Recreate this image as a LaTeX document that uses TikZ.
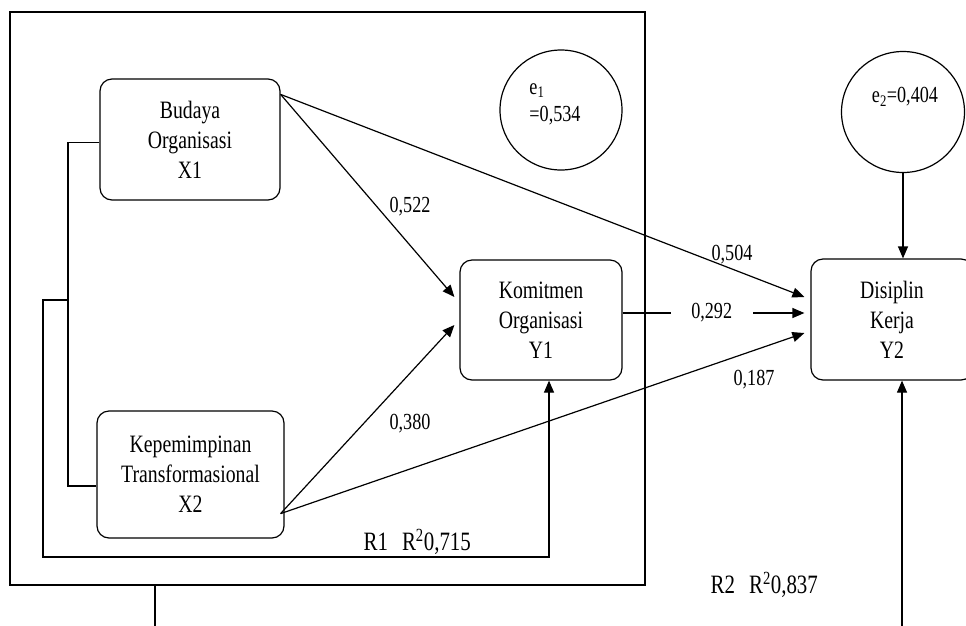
\documentclass[tikz,border=0pt]{standalone}
\usepackage{fontspec}
\setmainfont[FakeStretch=0.79]{Liberation Serif}
\usetikzlibrary{arrows.meta,shapes.geometric,calc}
\begin{document}
\begin{tikzpicture}[x=1pt,y=-1pt,line width=1.2pt,
  box/.style={draw,rounded corners=12pt,align=center,font=\fontsize{25}{30}\selectfont,inner sep=0pt},
  arr/.style={-{Triangle[length=12pt,width=10pt]}},
  num/.style={font=\fontsize{23}{25}\selectfont,inner sep=1pt},
  rr/.style={font=\fontsize{26.5}{28}\selectfont,anchor=west,inner sep=0pt},
  errc/.style={draw,ellipse,inner sep=0pt}]
\clip (0,0) rectangle (966,625);
\fill[white] (0,0) rectangle (966,625);
% outer frame
\draw (10,12) rectangle (645,585);
% nodes
\node[box,minimum width=180pt,minimum height=121pt] (X1) at (190,139.5) {Budaya\\Organisasi\\X1};
\node[box,minimum width=187pt,minimum height=127pt] (X2) at (190.5,474.5) {Kepemimpinan\\Transformasional\\X2};
\node[box,minimum width=162pt,minimum height=120pt] (Y1) at (541,320) {Komitmen\\Organisasi\\Y1};
\node[box,minimum width=162pt,minimum height=121pt] (Y2) at (892,319.5) {Disiplin\\Kerja\\Y2};
\node[errc,minimum width=122pt,minimum height=120pt] (e1) at (561,110) {};
\node[errc,minimum width=123pt,minimum height=121pt] (e2) at (903,112) {};
\node[align=left,font=\fontsize{23}{27}\selectfont,inner sep=0pt] (e1t) at (555,104) {e\textsubscript{1}\\=0,534};
\node[font=\fontsize{23}{23}\selectfont,inner sep=0pt] (e2t) at (905,97) {e\textsubscript{2}=0,404};
% coordinates
\coordinate (s1) at ($(X1.north east)+(0,16)$);
\coordinate (s2) at ($(X2.south east)+(-4,-25)$);
\coordinate (t11) at ($(Y1.west)+(-5,-23)$);
\coordinate (t12) at ($(Y1.west)+(-5,5)$);
\coordinate (t21) at ($(Y2.west)+(-6,-22.5)$);
\coordinate (t22) at ($(Y2.west)+(-6,-6.5)$);
\coordinate (t23) at ($(Y2.west)+(-6,13.5)$);
% paths
\draw[arr] (s1) -- (t11);
\draw[arr] (s1) -- (t21);
\draw[arr] (s2) -- (t12);
\draw[arr] (s2) -- (t23);
\draw[arr] ($(Y1.east)+(0,-7)$) -- node[num,fill=white,minimum width=82pt,pos=0.49] (l292) {0,292} (t22);
\draw[arr] (e2.south) -- (e2.south |- Y2.north);
% bracket
\draw ($(X1.west)+(0,3)$) -- (68,142.5) -- (68,486) -- ($(X2.west)+(0,11.5)$);
\draw[arr] (68,300) -- (43,300) -- (43,557) -- (549,557) -- ($(Y1.south)+(8,0)$);
\draw (155,585) -- (155,630);
\draw[arr] (902,630) -- ($(Y2.south)+(10,0)$);
% labels
\node[num] (l522) at (410,207) {0,522};
\node[num] (l380) at (410,424) {0,380};
\node[num] (l504) at (732,255) {0,504};
\node[num] (l187) at (754,380) {0,187};
\node[rr] (r1) at (363,542) {R1\hspace{14pt}R\textsuperscript{2}0,715};
\node[rr] (r2) at (710,585) {R2\hspace{14pt}R\textsuperscript{2}0,837};
\end{tikzpicture}
\end{document}
